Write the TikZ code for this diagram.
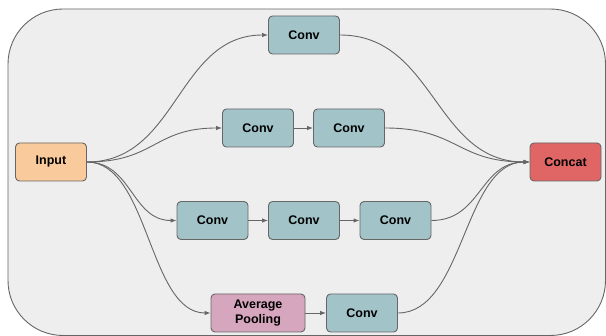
\documentclass[tikz,border=0pt]{standalone}
\usepackage{fontspec}
\setmainfont{Liberation Sans}
\usetikzlibrary{arrows.meta}
\definecolor{panelfill}{HTML}{EEEEEE}
\definecolor{edgegray}{HTML}{666666}
\definecolor{inputfill}{HTML}{F9CB9C}
\definecolor{convfill}{HTML}{A2C4C9}
\definecolor{concatfill}{HTML}{E06666}
\definecolor{poolfill}{HTML}{D5A6BD}
\tikzset{
  block/.style={draw=edgegray, line width=0.9pt, rounded corners=4pt,
    minimum width=71pt, minimum height=38pt, inner sep=2pt,
    font=\fontsize{12.5}{15}\selectfont\bfseries, align=center},
  conv/.style={block, fill=convfill},
  link/.style={draw=edgegray, line width=0.9pt,
    -{Latex[length=6pt,width=4.5pt]}},
}
\begin{document}
\begin{tikzpicture}[x=1pt,y=-1pt]
\useasboundingbox (0,0) rectangle (606,336);
% background panel
\draw[draw=edgegray, line width=0.9pt, fill=panelfill, rounded corners=55pt]
  (8,9) rectangle (605.5,335.5);

% nodes
\node[block, fill=inputfill] (in) at (51,162) {Input};
\node[block, fill=concatfill] (cat) at (565.5,162) {Concat};

\node[conv] (c1) at (304,35) {Conv};

\node[conv] (c2a) at (258,128) {Conv};
\node[conv] (c2b) at (349,128) {Conv};

\node[conv] (c3a) at (212.5,220.5) {Conv};
\node[conv] (c3b) at (304,220.5) {Conv};
\node[conv] (c3c) at (395.5,220.5) {Conv};

\node[block, fill=poolfill, minimum width=94pt] (pool) at (258,313) {Average\\Pooling};
\node[conv] (c4) at (362,313) {Conv};

% branches out of the input
\draw[link] (in.east) .. controls +(91,0) and +(-91,0) .. (c1.west);
\draw[link] (in.east) .. controls +(68,0) and +(-68,0) .. (c2a.west);
\draw[link] (in.east) .. controls +(45,0) and +(-45,0) .. (c3a.west);
\draw[link] (in.east) .. controls +(62,0) and +(-62,0) .. (pool.west);

% chains inside the branches
\draw[link] (c2a) -- (c2b);
\draw[link] (c3a) -- (c3b);
\draw[link] (c3b) -- (c3c);
\draw[link] (pool) -- (c4);

% branches into the concatenation
\draw[link] (c1.east) .. controls +(95,0) and +(-95,0) .. (cat.west);
\draw[link] (c2b.east) .. controls +(73,0) and +(-73,0) .. (cat.west);
\draw[link] (c3c.east) .. controls +(50,0) and +(-50,0) .. (cat.west);
\draw[link] (c4.east) .. controls +(66,0) and +(-66,0) .. (cat.west);
\end{tikzpicture}
\end{document}
